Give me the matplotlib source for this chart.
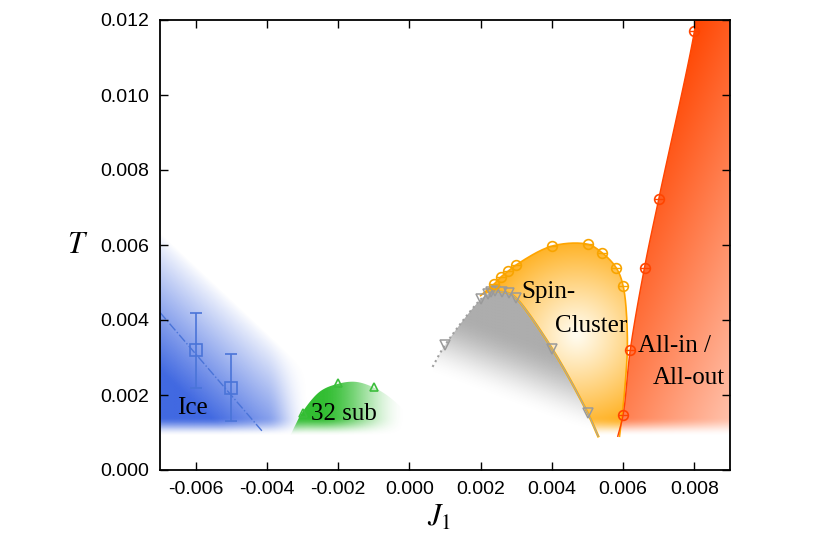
import numpy as np
import matplotlib
matplotlib.use('Agg')
from matplotlib import pyplot as plt
from matplotlib.patches import Polygon

plt.rcParams['font.family'] = 'Liberation Sans'
plt.rcParams['mathtext.fontset'] = 'stix'
plt.rcParams['axes.unicode_minus'] = False

# ---- data ----
ice_J = [-0.006, -0.005]
ice_T = [0.0032, 0.0022]
ice_err_lo = [0.0010, 0.0009]
ice_err_hi = [0.0010, 0.0009]
ice_line_J = [-0.007, -0.0041]
ice_line_T = [0.0042, 0.0010]
ice_edge_J = [-0.007, -0.0027]      # upper edge of the blue shading
ice_edge_T = [0.00632, 0.00248]

sub32_J = [-0.003, -0.002, -0.001]
sub32_T = [0.00153, 0.00232, 0.00222]
sub32_edge_J = [-0.0034, -0.0032, -0.003, -0.0025, -0.002, -0.0015, -0.001, -0.0005, 0.0, 0.0002]
sub32_edge_T = [0.0008, 0.0012, 0.00155, 0.0021, 0.0023, 0.00235, 0.0022, 0.0019, 0.0014, 0.0008]

gray_J = [0.001, 0.002, 0.0022, 0.0023, 0.0024, 0.0026, 0.0028, 0.003, 0.004, 0.005]
gray_T = [0.00333, 0.00455, 0.00469, 0.00475, 0.00477, 0.00475, 0.00471, 0.00458, 0.00324, 0.00153]
gray_start = (0.00065, 0.00275)
gray_end = (0.0053, 0.0009)

spin_J = [0.00237, 0.00256, 0.00277, 0.003, 0.004, 0.005, 0.0054, 0.0058, 0.006]
spin_T = [0.00495, 0.00514, 0.0053, 0.00547, 0.00597, 0.00602, 0.0058, 0.0054, 0.00491]
spin_left = (0.0020, 0.00465)
spin_right_J = [0.00612, 0.00605, 0.0059]
spin_right_T = [0.0035, 0.0022, 0.0009]

aio_J = [0.006, 0.0062, 0.0066, 0.007, 0.008]
aio_T = [0.00147, 0.0032, 0.0054, 0.00723, 0.0117]
aio_bottom = (0.00585, 0.0009)
aio_top = (0.0081, 0.0125)

XMIN, XMAX, YMIN, YMAX = -0.007, 0.009, 0.0, 0.012
SX, SY = 35500.0, 37500.0   # approx screen px per data unit


def smooth(xs, ys, n=16):
    """centripetal catmull-rom through the given points"""
    p = np.column_stack([np.asarray(xs) * SX, np.asarray(ys) * SY])
    p = np.vstack([2 * p[0] - p[1], p, 2 * p[-1] - p[-2]])
    out = []
    for i in range(1, len(p) - 2):
        p0, p1, p2, p3 = p[i - 1], p[i], p[i + 1], p[i + 2]
        t0 = 0.0
        t1 = t0 + np.linalg.norm(p1 - p0) ** 0.5
        t2 = t1 + np.linalg.norm(p2 - p1) ** 0.5
        t3 = t2 + np.linalg.norm(p3 - p2) ** 0.5
        t = np.linspace(t1, t2, n, endpoint=False)[:, None]
        a1 = (t1 - t) / (t1 - t0) * p0 + (t - t0) / (t1 - t0) * p1
        a2 = (t2 - t) / (t2 - t1) * p1 + (t - t1) / (t2 - t1) * p2
        a3 = (t3 - t) / (t3 - t2) * p2 + (t - t2) / (t3 - t2) * p3
        b1 = (t2 - t) / (t2 - t0) * a1 + (t - t0) / (t2 - t0) * a2
        b2 = (t3 - t) / (t3 - t1) * a2 + (t - t1) / (t3 - t1) * a3
        out.append((t2 - t) / (t2 - t1) * b1 + (t - t1) / (t2 - t1) * b2)
    out.append(p[-2][None])
    c = np.vstack(out)
    return c[:, 0] / SX, c[:, 1] / SY


JJ, TT = np.meshgrid(np.linspace(XMIN, XMAX, 800), np.linspace(YMIN, YMAX, 600))
PX = (JJ - XMIN) * SX
PY = TT * SY


def sstep(v):
    v = np.clip(v, 0, 1)
    return v * v * (3 - 2 * v)


bottom_fade = sstep((TT - 0.0009) / 0.0005)


def paint(ax, rgb, alpha, cx=None, cy=None, z=1):
    img = np.zeros(JJ.shape + (4,))
    img[..., :3] = rgb
    img[..., 3] = np.clip(alpha, 0, 1)
    im = ax.imshow(img, extent=(XMIN, XMAX, YMIN, YMAX), origin='lower',
                   aspect='auto', interpolation='bilinear', zorder=z)
    if cx is not None:
        poly = Polygon(np.column_stack([cx, cy]), closed=True, transform=ax.transData,
                       facecolor='none', edgecolor='none')
        im.set_clip_path(poly)


fig = plt.figure(figsize=(8.3, 5.45), dpi=100)
ax = fig.add_axes([160 / 830, 1 - 470 / 545, 570 / 830, 450 / 545])

# ---- Ice (blue): fades toward its upper diagonal edge ----
ex0, ey0 = (ice_edge_J[0] - XMIN) * SX, ice_edge_T[0] * SY
ex1, ey1 = (ice_edge_J[1] - XMIN) * SX, ice_edge_T[1] * SY
nx, ny = -(ey0 - ey1), -(ex1 - ex0)
nn = np.hypot(nx, ny)
d = ((PX - ex0) * nx + (PY - ey0) * ny) / nn
a_blue = (np.clip(d / 100, 0, 1) ** 0.9 * bottom_fade
          * sstep((-0.0028 - JJ) / 0.0012))
paint(ax, np.array([65, 105, 225]) / 255, a_blue, z=1)

# ---- 32 sub (green) ----
gx, gy = smooth(sub32_edge_J, sub32_edge_T)
a_green = sstep((-0.0001 - JJ) / 0.0024) * bottom_fade
paint(ax, np.array([50, 190, 50]) / 255, a_green, gx, gy, 2)

# ---- spin cluster (orange) ----
gcx, gcy = smooth([gray_start[0]] + gray_J + [gray_end[0]],
                  [gray_start[1]] + gray_T + [gray_end[1]])
ocx, ocy = smooth([spin_left[0]] + spin_J + spin_right_J,
                  [spin_left[1]] + spin_T + spin_right_T)
right_side = gcx >= 0.0024
ox = np.concatenate([ocx, [gray_end[0]], gcx[right_side][::-1]])
oy = np.concatenate([ocy, [gray_end[1]], gcy[right_side][::-1]])
ro = np.sqrt(((PX - (0.0047 - XMIN) * SX) / 100) ** 2 + ((PY - 0.0036 * SY) / 100) ** 2)
s = np.clip(ro, 0, 1) ** 1.1
orange_rgb = np.stack([np.ones_like(s),
                       (252 - 80 * s) / 255,
                       (240 - 220 * s) / 255], axis=-1)
paint(ax, orange_rgb, bottom_fade, ox, oy, 3)

# ---- gray region ----
t0 = 0.0026 - 0.36 * (JJ - 0.0005)
a_gray = 0.78 * sstep((TT - t0) / 0.0019) * bottom_fade
gx2 = np.concatenate([gcx, [gray_start[0]]])
gy2 = np.concatenate([gcy, [gray_end[1]]])
paint(ax, np.array([150, 150, 150]) / 255, a_gray, gx2, gy2, 4)

# ---- all-in / all-out (red) ----
rcx, rcy = smooth([aio_bottom[0]] + aio_J + [aio_top[0]],
                  [aio_bottom[1]] + aio_T + [aio_top[1]])
rx = np.concatenate([rcx, [0.0095, 0.0095]])
ry = np.concatenate([rcy, [0.0125, aio_bottom[1]]])
sr = np.clip(0.00169 * (0.012 - TT) * SY + 0.00403 * (JJ - 0.008) * SX, 0, 1)
red_rgb = np.stack([np.ones_like(sr),
                    (69 + 151 * sr) / 255,
                    (0 + 208 * sr) / 255], axis=-1)
paint(ax, red_rgb, bottom_fade, rx, ry, 5)

# ---- boundary lines ----
ax.plot(ice_line_J, ice_line_T, '-.', color='#4a74d8', lw=1.0, zorder=6)
left_side = gcx <= 0.0024
ax.plot(gcx[left_side], gcy[left_side], ':', color='#a0a0a0', lw=1.5, zorder=6)
ax.plot(gcx[right_side], gcy[right_side], '-', color='#ffb000', lw=1.8, zorder=6)
ax.plot(gcx[right_side], gcy[right_side], '-', color='#a8a8a8', lw=0.8, zorder=6)
ax.plot(ocx, ocy, '-', color='#ffa500', lw=1.2, zorder=6)
ax.plot(rcx, rcy, '-', color='#ff4500', lw=1.0, zorder=6)

# ---- markers ----
ax.errorbar(ice_J, ice_T, yerr=[ice_err_lo, ice_err_hi], fmt='s', mfc='none',
            mec='#4a74d8', ecolor='#4a74d8', ms=8, mew=1.2, capsize=4, lw=1.2, zorder=7)
ax.plot(sub32_J, sub32_T, '^', mfc='none', mec='#3cbe3c', ms=6, mew=1.2, zorder=7)
ax.plot(gray_J, gray_T, 'v', mfc='none', mec='#9a9a9a', ms=7, mew=1.1, zorder=7)
ax.plot(spin_J, spin_T, 'o', mfc='none', mec='#f8a400', ms=7, mew=1.2, zorder=7)
ax.plot(spin_J, spin_T, '_', color='#f8a400', ms=7, mew=1.0, zorder=7)
ax.plot(aio_J, aio_T, 'o', mfc='none', mec='#ff4500', ms=7, mew=1.2, zorder=7)
ax.plot(aio_J, aio_T, '_', color='#ff4500', ms=7, mew=1.0, zorder=7)

# ---- labels ----
serif = dict(family='Liberation Serif', fontsize=18, ha='center', va='center', zorder=8)
ax.text(-0.0061, 0.00165, 'Ice', **serif)
ax.text(-0.00183, 0.0015, '32 sub', **serif)
ax.text(0.0039, 0.00475, 'Spin-', **serif)
ax.text(0.0051, 0.00384, 'Cluster', **serif)
ax.text(0.00744, 0.0033, 'All-in /', **serif)
ax.text(0.00783, 0.00245, 'All-out', **serif)

ax.set_xlim(XMIN, XMAX)
ax.set_ylim(YMIN, YMAX)
ax.set_xticks(np.arange(-0.006, 0.0081, 0.002))
ax.set_yticks(np.arange(0.0, 0.0121, 0.002))
ax.xaxis.set_major_formatter(matplotlib.ticker.FormatStrFormatter('%.3f'))
ax.yaxis.set_major_formatter(matplotlib.ticker.FormatStrFormatter('%.3f'))
ax.tick_params(direction='in', top=True, right=True, length=6, width=1.0,
               labelsize=14, pad=8)
for sp in ax.spines.values():
    sp.set_linewidth(1.3)
    sp.set_zorder(9)
ax.xaxis.set_zorder(9)
ax.yaxis.set_zorder(9)

ax.set_xlabel(r'$J_1$', fontsize=22)
ax.xaxis.set_label_coords(0.49, -0.107)
ax.xaxis.label.set_va('center')
ax.set_ylabel(r'$T$', fontsize=22, rotation=0)
ax.yaxis.set_label_coords((78 - 160) / 570, 0.5)
ax.yaxis.label.set_va('center')
ax.yaxis.label.set_ha('center')

fig.savefig('out.png', dpi=100)
